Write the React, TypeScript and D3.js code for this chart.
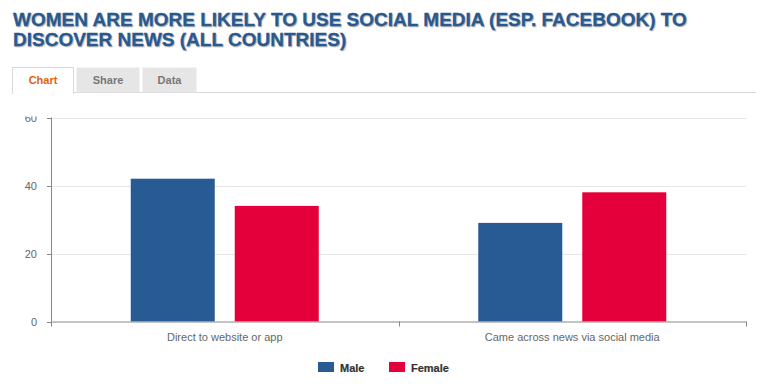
import React from "react";
import * as d3 from "d3";

const categories = ["Direct to website or app", "Came across news via social media"];
const seriesNames = ["Male", "Female"];
const maleValues = [42, 29];
const femaleValues = [34, 38];
const yTicks = [0, 20, 40, 60];
const titleLines = [
  "WOMEN ARE MORE LIKELY TO USE SOCIAL MEDIA (ESP. FACEBOOK) TO",
  "DISCOVER NEWS (ALL COUNTRIES)",
];
const tabs = ["Chart", "Share", "Data"];

const colors = ["#285b94", "#e4003b"];
const W = 772;
const H = 386;
const FONT = "'Liberation Sans', Arial, sans-serif";

export default function App() {
  const left = 51;
  const right = 746;
  const top = 117.5;
  const bottom = 321.5;

  const y = d3.scaleLinear().domain([0, 60]).range([bottom, top]);
  const x0 = d3.scaleBand<string>().domain(categories).range([left, right]).padding(0);
  const bw = x0.bandwidth();
  const groupW = 188;
  const x1 = d3
    .scaleBand<string>()
    .domain(seriesNames)
    .range([(bw - groupW) / 2, (bw + groupW) / 2])
    .paddingInner(20 / 104)
    .paddingOuter(0);
  const values = [maleValues, femaleValues];

  const tabX = [12, 76, 142];
  const tabW = [61, 63, 54];

  return (
    <svg
      width={W}
      height={H}
      style={{ position: "absolute", left: 0, top: 0, background: "#fff" }}
      fontFamily={FONT}
    >
      <defs>
        <clipPath id="ylab">
          <rect x={0} y={116.5} width={60} height={230} />
        </clipPath>
      </defs>
      {/* title */}
      {titleLines.map((t, i) => (
        <text
          key={i}
          x={13}
          y={26 + i * 20}
          fontSize={19}
          fontWeight="bold"
          fill="#2a5d96"
          stroke="#2a5d96"
          strokeWidth={0.3}
          style={{ textShadow: "1px 1px 1px rgba(0,0,0,0.25)" }}
        >
          {t}
        </text>
      ))}
      {/* tabs */}
      <line x1={12} x2={756} y1={92.5} y2={92.5} stroke="#d9d9d9" />
      {tabs.map((t, i) => (
        <g key={t}>
          <rect
            x={tabX[i] + 0.5}
            y={67.5}
            width={tabW[i]}
            height={i === 0 ? 26 : 25}
            fill={i === 0 ? "#fff" : "#e6e6e6"}
            stroke={i === 0 ? "#d9d9d9" : "none"}
          />
          {i === 0 && <rect x={tabX[0] + 1} y={92} width={tabW[0] - 1} height={2} fill="#fff" />}
          <text
            x={tabX[i] + tabW[i] / 2 + 0.5}
            y={84}
            textAnchor="middle"
            fontSize={11}
            fontWeight="bold"
            fill={i === 0 ? "#e0620f" : "#777"}
          >
            {t}
          </text>
        </g>
      ))}
      {/* gridlines */}
      {yTicks.slice(1).map((t) => (
        <line key={t} x1={left} x2={right} y1={Math.round(y(t)) + 0.5} y2={Math.round(y(t)) + 0.5} stroke="#e6e6e6" />
      ))}
      {/* bars */}
      {categories.map((c, ci) => (
        <g key={c} transform={`translate(${x0(c)},0)`}>
          {seriesNames.map((s, si) => (
            <rect
              key={s}
              x={x1(s)}
              y={y(values[si][ci])}
              width={x1.bandwidth()}
              height={bottom - y(values[si][ci])}
              fill={colors[si]}
            />
          ))}
        </g>
      ))}
      {/* y axis */}
      <line x1={left + 0.5} x2={left + 0.5} y1={top} y2={bottom} stroke="#888" />
      {yTicks.map((t) => (
        <g key={t}>
          <line x1={left - 4} x2={left} y1={Math.round(y(t)) + 0.5} y2={Math.round(y(t)) + 0.5} stroke="#888" />
          <text
            x={37}
            y={y(t) + 4}
            textAnchor="end"
            fontSize={11}
            fill="#666"
            clipPath="url(#ylab)"
          >
            {t}
          </text>
        </g>
      ))}
      {/* x axis */}
      <line x1={left} x2={right + 0.5} y1={bottom + 0.5} y2={bottom + 0.5} stroke="#888" />
      {[left, left + bw, right].map((xx, i) => (
        <line key={i} x1={Math.round(xx) + 0.5} x2={Math.round(xx) + 0.5} y1={bottom} y2={bottom + 5} stroke="#888" />
      ))}
      {categories.map((c) => (
        <text key={c} x={(x0(c) as number) + bw / 2} y={341} textAnchor="middle" fontSize={11} fill="#666">
          {c}
        </text>
      ))}
      {/* legend */}
      {seriesNames.map((s, i) => {
        const lx = [318, 389][i];
        return (
          <g key={s}>
            <rect x={lx} y={362} width={16} height={10} fill={colors[i]} />
            <text x={lx + 22} y={371.5} fontSize={11} fontWeight="bold" fill="#333" stroke="#333" strokeWidth={0.2}>
              {s}
            </text>
          </g>
        );
      })}
    </svg>
  );
}
